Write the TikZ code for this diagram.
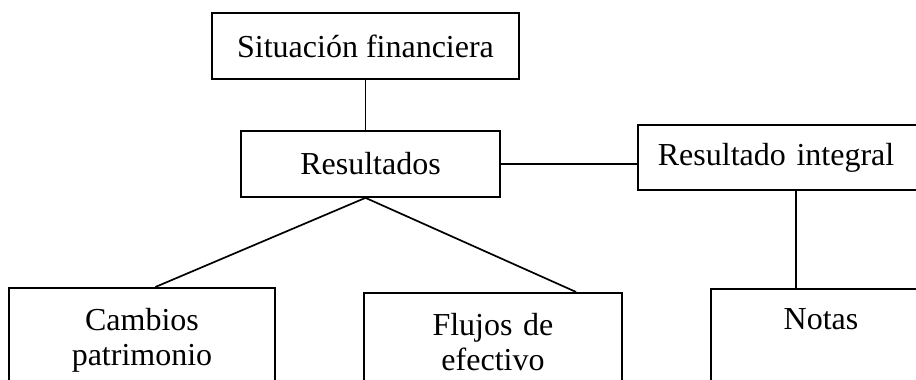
\documentclass[tikz,border=0pt]{standalone}
\usepackage{fontspec}
\setmainfont{Liberation Serif}
\usetikzlibrary{calc}

\begin{document}
\begin{tikzpicture}[x=1pt, y=1pt, line width=1.7pt,
  caja/.style={draw, font=\fontsize{32}{35}\selectfont, inner sep=0pt}]
\clip (0, 0) rectangle (916, 380);
\node[caja, minimum width=307pt, minimum height=66pt] (sitfin) at (365.5, 334) {Situación financiera};
\node[caja, minimum width=259pt, minimum height=66pt] (result) at (370.5, 216) {Resultados};
\node[caja, anchor=west, text width=260pt, align=left, inner xsep=20pt, minimum height=65pt] (integ) at (637, 222.5) {Resultado integral};
\node[caja, anchor=north, text width=226pt, align=center, inner xsep=20pt, inner ysep=20pt] (cambios) at (142, 93) {Cambios\\patrimonio};
\node[caja, anchor=north, text width=218pt, align=center, inner xsep=20pt, inner ysep=20pt] (flujos) at (493, 88) {Flujos de\\efectivo};
\node[caja, anchor=north, text width=180pt, align=center, inner xsep=20pt, inner ysep=20pt, text depth=80pt] (notas) at (821, 92) {Notas};
\coordinate (fork) at (sitfin.south |- result.south);
\coordinate (baja) at ($(integ.south west)!0.527!(integ.south east)$);
\draw (sitfin.south) -- (sitfin.south |- result.north);
\draw (result.east) -- (result.east -| integ.west);
\draw (fork) -- ($(cambios.north west)!0.55!(cambios.north east)$);
\draw (fork) -- ($(flujos.north west)!0.82!(flujos.north east)$);
\draw (baja) -- (baja |- notas.north);
\end{tikzpicture}
\end{document}
